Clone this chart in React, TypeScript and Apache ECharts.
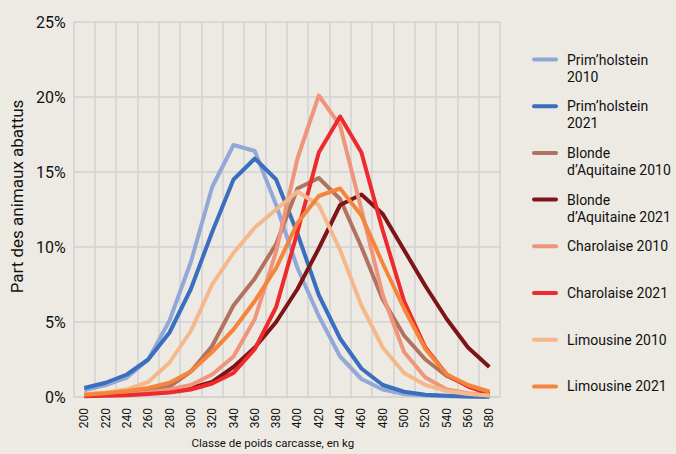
import React, { useEffect, useRef } from "react";
import * as echarts from "echarts";

const categories = ["200","220","240","260","280","300","320","340","360","380","400","420","440","460","480","500","520","540","560","580"];
const yTicks = [0, 5, 10, 15, 20, 25];

const primholstein2010 = [0.45, 0.8, 1.3, 2.5, 5.1, 9.0, 14.0, 16.8, 16.4, 12.8, 8.6, 5.4, 2.7, 1.2, 0.5, 0.2, 0.1, 0.05, 0.03, 0.02];
const primholstein2021 = [0.6, 0.95, 1.5, 2.5, 4.3, 7.2, 11.0, 14.5, 15.9, 14.5, 10.9, 6.8, 3.9, 1.9, 0.8, 0.35, 0.15, 0.08, 0.04, 0.02];
const blonde2010 = [0.15, 0.25, 0.3, 0.45, 0.7, 1.7, 3.4, 6.1, 7.9, 10.2, 13.9, 14.6, 13.2, 10.0, 6.5, 4.1, 2.5, 1.4, 0.75, 0.35];
const blonde2021 = [0.1, 0.15, 0.2, 0.25, 0.4, 0.6, 1.0, 2.0, 3.3, 5.0, 7.2, 9.9, 12.8, 13.5, 12.2, 9.8, 7.4, 5.2, 3.3, 2.0];
const charolaise2010 = [0.1, 0.15, 0.2, 0.3, 0.5, 0.8, 1.5, 2.7, 5.2, 9.7, 15.9, 20.1, 18.1, 12.5, 6.8, 3.0, 1.3, 0.5, 0.25, 0.1];
const charolaise2021 = [0.05, 0.08, 0.12, 0.2, 0.3, 0.5, 0.9, 1.6, 3.2, 6.0, 11.0, 16.3, 18.7, 16.3, 11.1, 6.4, 3.3, 1.5, 0.7, 0.2];
const limousine2010 = [0.2, 0.3, 0.5, 1.0, 2.3, 4.4, 7.5, 9.6, 11.3, 12.5, 13.7, 12.8, 9.8, 6.1, 3.3, 1.6, 0.8, 0.4, 0.2, 0.1];
const limousine2021 = [0.15, 0.25, 0.4, 0.6, 0.95, 1.7, 3.0, 4.5, 6.4, 8.6, 11.6, 13.4, 13.9, 12.1, 8.9, 5.9, 3.2, 1.5, 0.8, 0.35];

const seriesNames = [
  "Prim’holstein\n2010",
  "Prim’holstein\n2021",
  "Blonde\nd’Aquitaine 2010",
  "Blonde\nd’Aquitaine 2021",
  "Charolaise 2010",
  "Charolaise 2021",
  "Limousine 2010",
  "Limousine 2021",
];
const seriesData = [primholstein2010, primholstein2021, blonde2010, blonde2021, charolaise2010, charolaise2021, limousine2010, limousine2021];
const seriesColors = ["#92a8d6", "#3a6fbf", "#b0735f", "#7d1417", "#ef957b", "#ee2a2d", "#f4b98b", "#f5853a"];

const FONT = "Roboto, 'Liberation Sans', sans-serif";
const ICON = "path://M2,6.5 L24,6.5 A2,2 0 0 1 24,10.5 L2,10.5 A2,2 0 0 1 2,6.5 Z M0,0 L0,0 M30,34 L30,34";

export default function App() {
  const ref = useRef<HTMLDivElement>(null);
  useEffect(() => {
    if (!ref.current) return;
    const chart = echarts.init(ref.current, null, { renderer: "svg" });
    chart.setOption({
      animation: false,
      backgroundColor: "#edeae4",
      textStyle: { fontFamily: FONT },
      grid: { left: 68, right: 176, top: 22, bottom: 52, containLabel: false },
      legend: {
        orient: "vertical",
        left: 527,
        top: 46,
        itemWidth: 30,
        itemHeight: 34,
        itemGap: 12.7,
        icon: ICON,
        itemStyle: { borderWidth: 0 },
        formatter: (name: string) => (name.indexOf("\n") >= 0 ? name : name + "\n"),
        textStyle: { fontFamily: FONT, fontSize: 14, lineHeight: 17, color: "#111" },
        data: seriesNames,
      },
      xAxis: {
        type: "category",
        data: categories,
        boundaryGap: true,
        name: "Classe de poids carcasse, en kg",
        nameLocation: "middle",
        nameGap: 40,
        nameTextStyle: { fontFamily: FONT, fontSize: 11.5, color: "#111", padding: [0, 28, 0, 0] },
        axisLine: { show: true, lineStyle: { color: "#d2d2d2", width: 1.5 } },
        axisTick: { show: false },
        axisLabel: { rotate: 90, margin: 11, fontFamily: FONT, fontSize: 12, color: "#111" },
        splitLine: { show: true, lineStyle: { color: "#d2d2d2", width: 1.5 } },
      },
      yAxis: {
        type: "value",
        min: 0,
        max: 25,
        interval: 5,
        name: "Part des animaux abattus",
        nameLocation: "middle",
        nameRotate: 90,
        nameGap: 44,
        nameTextStyle: { fontFamily: FONT, fontSize: 17, color: "#111", padding: [0, 0, 0, 26] },
        axisLine: { show: false },
        axisTick: { show: false },
        axisLabel: {
          margin: 8,
          fontFamily: FONT,
          fontSize: 16,
          color: "#111",
          formatter: (v: number) => (yTicks.indexOf(v) >= 0 ? v + "%" : ""),
        },
        splitLine: { show: true, lineStyle: { color: "#d2d2d2", width: 1.5 } },
      },
      series: seriesNames.map((name, i) => ({
        name,
        type: "line",
        data: seriesData[i],
        showSymbol: false,
        symbol: "none",
        color: seriesColors[i],
        lineStyle: { width: 4, color: seriesColors[i], join: "round" },
      })),
    });
    return () => chart.dispose();
  }, []);
  return <div ref={ref} style={{ width: 676, height: 454, position: "absolute", left: 0, top: 0 }} />;
}
